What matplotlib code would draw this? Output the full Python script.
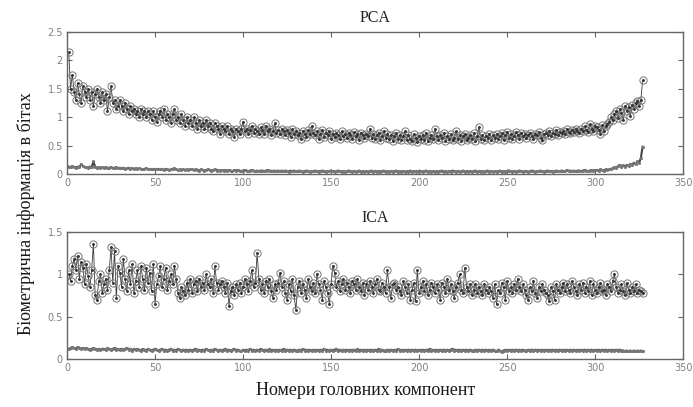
import numpy as np
import matplotlib
matplotlib.use("Agg")
import matplotlib.pyplot as plt

pca_info = [
    2.15, 1.50, 1.75, 1.45, 1.30, 1.60, 1.40, 1.25, 1.55, 1.45,
    1.35, 1.50, 1.30, 1.45, 1.20, 1.40, 1.50, 1.35, 1.25, 1.45,
    1.30, 1.40, 1.10, 1.35, 1.55, 1.25, 1.30, 1.15, 1.20, 1.30,
    1.20, 1.10, 1.25, 1.15, 1.05, 1.20, 1.10, 1.15, 1.05, 1.10,
    1.00, 1.15, 1.05, 1.10, 1.00, 1.10, 1.05, 0.95, 1.10, 1.00,
    0.92, 1.05, 1.10, 1.00, 1.15, 0.95, 1.05, 1.00, 0.90, 1.05,
    1.15, 0.95, 1.00, 0.90, 1.05, 0.95, 0.85, 1.00, 0.90, 0.95,
    0.85, 1.00, 0.90, 0.80, 0.95, 0.85, 0.90, 0.80, 0.95, 0.85,
    0.90, 0.80, 0.75, 0.90, 0.85, 0.80, 0.70, 0.85, 0.80, 0.75,
    0.85, 0.70, 0.80, 0.75, 0.65, 0.80, 0.75, 0.70, 0.80, 0.92,
    0.75, 0.80, 0.70, 0.78, 0.85, 0.72, 0.80, 0.75, 0.70, 0.82,
    0.78, 0.70, 0.85, 0.75, 0.80, 0.68, 0.75, 0.90, 0.72, 0.78,
    0.70, 0.80, 0.75, 0.68, 0.78, 0.72, 0.65, 0.80, 0.70, 0.75,
    0.68, 0.72, 0.62, 0.75, 0.70, 0.65, 0.78, 0.70, 0.85, 0.72,
    0.68, 0.75, 0.62, 0.70, 0.78, 0.65, 0.72, 0.68, 0.75, 0.62,
    0.70, 0.65, 0.72, 0.68, 0.62, 0.75, 0.66, 0.70, 0.64, 0.72,
    0.68, 0.62, 0.74, 0.66, 0.70, 0.60, 0.72, 0.68, 0.64, 0.70,
    0.66, 0.80, 0.64, 0.70, 0.62, 0.68, 0.72, 0.60, 0.66, 0.76,
    0.64, 0.70, 0.62, 0.68, 0.58, 0.66, 0.72, 0.62, 0.68, 0.60,
    0.66, 0.75, 0.60, 0.68, 0.62, 0.58, 0.70, 0.64, 0.56, 0.66,
    0.62, 0.68, 0.60, 0.72, 0.58, 0.64, 0.68, 0.62, 0.80, 0.66,
    0.60, 0.68, 0.64, 0.72, 0.58, 0.66, 0.62, 0.70, 0.60, 0.64,
    0.75, 0.62, 0.68, 0.58, 0.66, 0.70, 0.60, 0.64, 0.68, 0.62,
    0.72, 0.58, 0.66, 0.82, 0.62, 0.68, 0.60, 0.66, 0.64, 0.70,
    0.60, 0.68, 0.64, 0.70, 0.62, 0.66, 0.72, 0.60, 0.68, 0.74,
    0.64, 0.70, 0.62, 0.66, 0.74, 0.68, 0.62, 0.72, 0.66, 0.70,
    0.64, 0.68, 0.72, 0.66, 0.62, 0.70, 0.68, 0.74, 0.64, 0.60,
    0.70, 0.72, 0.68, 0.76, 0.66, 0.72, 0.70, 0.78, 0.68, 0.74,
    0.72, 0.76, 0.70, 0.80, 0.74, 0.72, 0.78, 0.74, 0.80, 0.76,
    0.72, 0.80, 0.76, 0.84, 0.78, 0.74, 0.88, 0.80, 0.76, 0.84,
    0.82, 0.78, 0.70, 0.86, 0.76, 0.84, 0.88, 0.92, 1.00, 0.95,
    1.05, 1.10, 0.98, 1.15, 1.08, 0.95, 1.20, 1.10, 1.18, 1.02,
    1.22, 1.15, 1.25, 1.28, 1.20, 1.30, 1.65,
]

pca_low = [
    0.13, 0.12, 0.14, 0.12, 0.11, 0.13, 0.12, 0.17, 0.14, 0.12,
    0.12, 0.11, 0.13, 0.12, 0.22, 0.12, 0.11, 0.12, 0.10, 0.12,
    0.11, 0.12, 0.10, 0.11, 0.12, 0.10, 0.11, 0.12, 0.10, 0.11,
    0.10, 0.11, 0.09, 0.10, 0.11, 0.09, 0.10, 0.09, 0.10, 0.09,
    0.10, 0.09, 0.08, 0.09, 0.10, 0.08, 0.09, 0.08, 0.09, 0.08,
    0.09, 0.08, 0.09, 0.08, 0.07, 0.09, 0.08, 0.07, 0.08, 0.09,
    0.10, 0.08, 0.07, 0.08, 0.07, 0.08, 0.07, 0.08, 0.07, 0.08,
    0.08, 0.07, 0.08, 0.07, 0.06, 0.08, 0.07, 0.06, 0.07, 0.08,
    0.07, 0.06, 0.07, 0.08, 0.06, 0.07, 0.06, 0.07, 0.06, 0.07,
    0.06, 0.07, 0.06, 0.05, 0.07, 0.06, 0.07, 0.06, 0.05, 0.06,
    0.07, 0.06, 0.05, 0.06, 0.07, 0.06, 0.05, 0.06, 0.05, 0.06,
    0.06, 0.05, 0.06, 0.07, 0.05, 0.06, 0.05, 0.06, 0.05, 0.06,
    0.05, 0.06, 0.05, 0.06, 0.05, 0.04, 0.06, 0.05, 0.06, 0.05,
    0.05, 0.06, 0.05, 0.04, 0.05, 0.06, 0.05, 0.04, 0.05, 0.05,
    0.06, 0.05, 0.04, 0.05, 0.06, 0.05, 0.04, 0.05, 0.05, 0.06,
    0.05, 0.04, 0.05, 0.06, 0.05, 0.04, 0.05, 0.04, 0.05, 0.06,
    0.05, 0.04, 0.05, 0.04, 0.05, 0.06, 0.04, 0.05, 0.04, 0.05,
    0.04, 0.05, 0.06, 0.04, 0.05, 0.04, 0.05, 0.04, 0.05, 0.06,
    0.04, 0.05, 0.04, 0.05, 0.04, 0.05, 0.06, 0.04, 0.05, 0.04,
    0.05, 0.04, 0.05, 0.04, 0.06, 0.04, 0.05, 0.04, 0.05, 0.04,
    0.05, 0.04, 0.05, 0.06, 0.04, 0.05, 0.04, 0.05, 0.04, 0.05,
    0.04, 0.05, 0.06, 0.04, 0.05, 0.04, 0.05, 0.04, 0.06, 0.05,
    0.04, 0.05, 0.04, 0.05, 0.06, 0.04, 0.05, 0.04, 0.05, 0.04,
    0.05, 0.06, 0.04, 0.05, 0.04, 0.05, 0.04, 0.05, 0.06, 0.04,
    0.05, 0.04, 0.05, 0.04, 0.05, 0.06, 0.04, 0.05, 0.04, 0.05,
    0.06, 0.05, 0.04, 0.05, 0.04, 0.05, 0.06, 0.05, 0.04, 0.05,
    0.05, 0.04, 0.05, 0.06, 0.05, 0.04, 0.05, 0.05, 0.06, 0.05,
    0.04, 0.05, 0.06, 0.05, 0.05, 0.04, 0.05, 0.06, 0.05, 0.05,
    0.06, 0.05, 0.05, 0.07, 0.05, 0.06, 0.05, 0.06, 0.05, 0.06,
    0.06, 0.05, 0.06, 0.07, 0.06, 0.05, 0.06, 0.07, 0.06, 0.07,
    0.07, 0.06, 0.08, 0.07, 0.06, 0.08, 0.07, 0.08, 0.09, 0.10,
    0.12, 0.10, 0.14, 0.16, 0.13, 0.15, 0.12, 0.16, 0.14, 0.18,
    0.15, 0.20, 0.17, 0.22, 0.20, 0.28, 0.48,
]

ica_info = [
    1.00, 0.92, 1.10, 1.18, 1.05, 1.22, 0.95, 1.15, 1.08, 0.88,
    1.12, 0.98, 0.85, 1.05, 1.36, 0.75, 0.70, 0.92, 1.00, 0.78,
    0.88, 0.95, 0.82, 1.05, 1.32, 0.90, 1.28, 0.72, 1.10, 1.02,
    0.85, 1.18, 0.95, 0.80, 1.05, 0.88, 1.12, 0.78, 0.92, 1.05,
    0.85, 1.10, 0.95, 0.82, 1.08, 0.90, 1.02, 0.80, 1.12, 0.65,
    0.88, 0.98, 1.10, 0.85, 0.95, 1.08, 0.82, 0.92, 1.00, 0.88,
    1.10, 0.95, 0.78, 0.72, 0.85, 0.80, 0.75, 0.90, 0.82, 0.95,
    0.78, 0.88, 0.92, 0.80, 0.95, 0.85, 0.90, 0.82, 1.00, 0.88,
    0.85, 0.95, 0.78, 1.10, 0.90, 0.82, 0.88, 0.92, 0.85, 0.78,
    0.90, 0.62, 0.80, 0.85, 0.75, 0.88, 0.82, 0.90, 0.78, 0.85,
    0.95, 0.88, 0.80, 0.92, 1.05, 0.85, 0.90, 1.25, 0.95, 0.82,
    0.88, 0.78, 0.92, 0.85, 0.95, 0.80, 0.72, 0.88, 0.82, 0.90,
    1.02, 0.85, 0.92, 0.78, 0.70, 0.88, 0.80, 0.95, 0.75, 0.58,
    0.85, 0.92, 0.78, 0.88, 0.82, 0.72, 0.95, 0.85, 0.80, 0.90,
    0.78, 1.00, 0.88, 0.82, 0.70, 0.92, 0.85, 0.78, 0.65, 0.88,
    1.10, 1.02, 0.85, 0.92, 0.80, 0.88, 0.95, 0.82, 0.90, 0.85,
    0.78, 0.92, 0.88, 0.82, 0.95, 0.85, 0.80, 0.90, 0.75, 0.88,
    0.82, 0.92, 0.85, 0.78, 0.88, 0.95, 0.82, 0.80, 0.90, 0.85,
    0.78, 1.05, 0.85, 0.72, 0.88, 0.90, 0.82, 0.85, 0.80, 0.75,
    0.92, 0.85, 0.78, 0.88, 0.70, 0.82, 0.90, 0.68, 1.05, 0.78,
    0.85, 0.92, 0.80, 0.88, 0.75, 0.82, 0.90, 0.85, 0.78, 0.88,
    0.82, 0.70, 0.90, 0.85, 0.78, 0.95, 0.82, 0.88, 0.80, 0.72,
    0.85, 0.90, 1.00, 0.82, 0.78, 1.08, 0.85, 0.80, 0.88, 0.75,
    0.82, 0.88, 0.78, 0.85, 0.80, 0.75, 0.88, 0.82, 0.78, 0.85,
    0.80, 0.72, 0.88, 0.65, 0.82, 0.78, 0.90, 0.85, 0.70, 0.92,
    0.80, 0.85, 0.78, 0.88, 0.82, 0.95, 0.85, 0.80, 0.88, 0.82,
    0.75, 0.70, 0.85, 0.80, 0.92, 0.78, 0.72, 0.85, 0.80, 0.88,
    0.82, 0.78, 0.75, 0.68, 0.85, 0.80, 0.70, 0.88, 0.82, 0.78,
    0.85, 0.90, 0.80, 0.88, 0.82, 0.78, 0.92, 0.85, 0.80, 0.75,
    0.88, 0.82, 0.90, 0.78, 0.85, 0.80, 0.92, 0.75, 0.88, 0.82,
    0.78, 0.85, 0.90, 0.80, 0.82, 0.75, 0.88, 0.85, 0.80, 0.92,
    1.00, 0.85, 0.78, 0.82, 0.88, 0.80, 0.75, 0.90, 0.82, 0.78,
    0.85, 0.80, 0.88, 0.78, 0.82, 0.80, 0.78,
]

ica_low = [
    0.12, 0.13, 0.14, 0.13, 0.12, 0.14, 0.13, 0.12, 0.13, 0.12,
    0.13, 0.12, 0.11, 0.12, 0.13, 0.12, 0.11, 0.12, 0.11, 0.12,
    0.12, 0.11, 0.13, 0.12, 0.11, 0.12, 0.13, 0.11, 0.12, 0.11,
    0.12, 0.11, 0.12, 0.13, 0.11, 0.12, 0.10, 0.12, 0.11, 0.12,
    0.11, 0.10, 0.12, 0.11, 0.10, 0.12, 0.11, 0.10, 0.11, 0.12,
    0.11, 0.10, 0.11, 0.12, 0.10, 0.11, 0.10, 0.11, 0.12, 0.10,
    0.11, 0.10, 0.12, 0.11, 0.10, 0.11, 0.10, 0.11, 0.10, 0.11,
    0.10, 0.11, 0.12, 0.10, 0.11, 0.10, 0.11, 0.10, 0.12, 0.11,
    0.10, 0.11, 0.10, 0.12, 0.11, 0.10, 0.11, 0.10, 0.11, 0.12,
    0.10, 0.11, 0.10, 0.11, 0.12, 0.10, 0.11, 0.10, 0.09, 0.11,
    0.10, 0.11, 0.10, 0.12, 0.10, 0.11, 0.10, 0.11, 0.10, 0.12,
    0.11, 0.10, 0.11, 0.10, 0.12, 0.10, 0.11, 0.10, 0.11, 0.10,
    0.11, 0.10, 0.12, 0.10, 0.11, 0.10, 0.11, 0.10, 0.11, 0.10,
    0.10, 0.11, 0.10, 0.12, 0.10, 0.11, 0.10, 0.11, 0.10, 0.11,
    0.10, 0.11, 0.10, 0.11, 0.10, 0.12, 0.10, 0.11, 0.10, 0.11,
    0.10, 0.11, 0.12, 0.10, 0.11, 0.10, 0.11, 0.10, 0.11, 0.10,
    0.11, 0.10, 0.11, 0.10, 0.12, 0.10, 0.11, 0.10, 0.11, 0.10,
    0.11, 0.10, 0.11, 0.10, 0.11, 0.10, 0.12, 0.10, 0.11, 0.10,
    0.10, 0.11, 0.10, 0.11, 0.10, 0.11, 0.10, 0.12, 0.10, 0.11,
    0.10, 0.11, 0.10, 0.11, 0.10, 0.11, 0.10, 0.11, 0.10, 0.11,
    0.10, 0.11, 0.10, 0.11, 0.10, 0.12, 0.10, 0.11, 0.10, 0.11,
    0.10, 0.11, 0.10, 0.11, 0.10, 0.11, 0.10, 0.11, 0.12, 0.10,
    0.11, 0.10, 0.11, 0.10, 0.11, 0.10, 0.11, 0.10, 0.11, 0.10,
    0.10, 0.11, 0.10, 0.11, 0.10, 0.11, 0.10, 0.11, 0.10, 0.11,
    0.10, 0.11, 0.10, 0.09, 0.11, 0.10, 0.08, 0.10, 0.11, 0.10,
    0.11, 0.10, 0.11, 0.10, 0.11, 0.10, 0.11, 0.10, 0.11, 0.10,
    0.10, 0.11, 0.10, 0.11, 0.10, 0.11, 0.10, 0.11, 0.10, 0.11,
    0.10, 0.11, 0.10, 0.11, 0.10, 0.11, 0.10, 0.11, 0.10, 0.11,
    0.10, 0.11, 0.10, 0.11, 0.10, 0.11, 0.10, 0.11, 0.10, 0.11,
    0.10, 0.11, 0.10, 0.11, 0.10, 0.11, 0.10, 0.11, 0.10, 0.11,
    0.10, 0.11, 0.10, 0.11, 0.10, 0.11, 0.10, 0.11, 0.10, 0.11,
    0.10, 0.11, 0.10, 0.11, 0.10, 0.10, 0.09, 0.10, 0.09, 0.10,
    0.09, 0.10, 0.09, 0.10, 0.09, 0.10, 0.09,
]

titles = ["PCA", "ICA"]
ylims = [2.5, 1.5]
yticks = [[0, 0.5, 1, 1.5, 2, 2.5], [0, 0.5, 1, 1.5]]
xticks = [0, 50, 100, 150, 200, 250, 300, 350]
ylabel = "Біометрична інформація в бітах"
xlabel = "Номери головних компонент"

serif = ["Liberation Serif", "DejaVu Serif"]

fig = plt.figure(figsize=(6.93, 4.07), dpi=100)
fig.patch.set_facecolor("white")
ax_top = fig.add_axes([0.0967, 0.5725, 0.889, 0.349])
ax_bot = fig.add_axes([0.0967, 0.118, 0.889, 0.312])

series = [(pca_info, pca_low), (ica_info, ica_low)]
for ax, (hi, lo), title, ym, yt in zip([ax_top, ax_bot], series, titles, ylims, yticks):
    xh = np.arange(1, len(hi) + 1)
    xl = np.arange(1, len(lo) + 1)
    ax.plot(xl, lo, color="#444444", lw=1.5, marker=".", ms=2.5, mfc="#777777", mec="#777777")
    ax.plot(xh, hi, color="#3a3a3a", lw=0.6, marker="o", ms=5.2, mfc="none",
            mec="#777777", mew=0.7)
    ax.plot(xh, hi, ls="none", marker=".", ms=2.2, color="#333333")
    ax.set_xlim(0, 350)
    ax.set_ylim(0, ym)
    ax.set_xticks(xticks)
    ax.set_yticks(yt)
    ax.set_yticklabels([("%g" % v) for v in yt])
    ax.tick_params(direction="in", top=True, right=True, length=3.5, width=0.8,
                   colors="#666666", labelsize=7, labelcolor="#808080", pad=3)
    for s in ax.spines.values():
        s.set_color("#666666")
        s.set_linewidth(1.0)
    ax.set_title(title, fontsize=11.5, family=serif, color="#222222", pad=7)

fig.text(0.037, 0.475, ylabel, rotation=90, ha="center", va="center",
         fontsize=13, family=serif, color="#1a1a1a")
fig.text(0.527, 0.040, xlabel, ha="center", va="center",
         fontsize=13, family=serif, color="#1a1a1a")

fig.savefig("out.png", dpi=100, facecolor="white")
